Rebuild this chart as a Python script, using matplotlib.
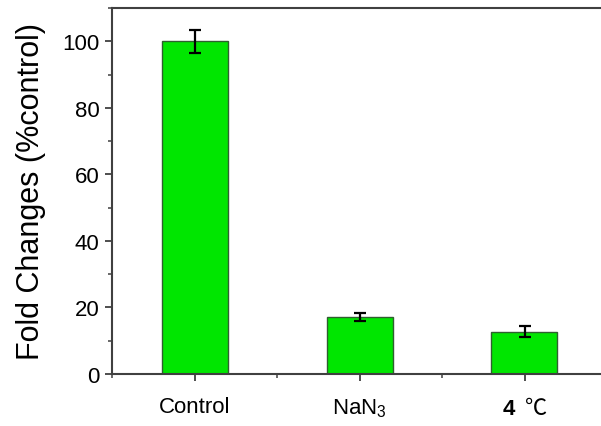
import matplotlib
matplotlib.use("Agg")
import matplotlib.pyplot as plt
from matplotlib.ticker import MultipleLocator

plt.rcParams['font.family'] = ['Liberation Sans', 'DejaVu Sans']
plt.rcParams['mathtext.fontset'] = 'custom'
plt.rcParams['mathtext.rm'] = 'Liberation Sans'
plt.rcParams['mathtext.it'] = 'Liberation Sans:italic'
plt.rcParams['mathtext.bf'] = 'Liberation Sans:bold'

categories = ["Control", "NaN$_3$", r"$\mathbf{4}$  ℃"]
fold_change = [100.0, 17.1, 12.7]
errors = [3.5, 1.3, 1.6]

positions = list(range(1, len(categories) + 1))

fig = plt.figure(figsize=(6.01, 4.27), dpi=100)
ax = fig.add_axes([112 / 601, 52 / 427, 495 / 601, 366 / 427])

ax.bar(positions, fold_change, width=0.4, color="#00e600",
       edgecolor="#2f5f2f", linewidth=1.0, zorder=2)
ax.errorbar(positions, fold_change, yerr=errors, fmt="none",
            ecolor="black", elinewidth=1.6, capsize=4, capthick=1.6, zorder=3)

ax.set_xlim(0.5, 3.5)
ax.set_ylim(0, 110)
ax.set_xticks(positions)
ax.set_xticklabels(categories)
ax.xaxis.set_minor_locator(MultipleLocator(0.5))
ax.yaxis.set_major_locator(MultipleLocator(20))
ax.yaxis.set_minor_locator(MultipleLocator(10))

# the plain part of this label (the celsius sign) needs a font that has it
ax.get_xticklabels()[2].set_fontfamily("Noto Sans CJK SC")

for side in ["left", "bottom", "top", "right"]:
    ax.spines[side].set_color("#404040")
    ax.spines[side].set_linewidth(1.5)

ax.tick_params(axis="both", which="major", direction="out", length=5,
               width=1.3, color="#404040", labelsize=16, pad=4)
ax.tick_params(axis="both", which="minor", direction="out", length=3,
               width=1.1, color="#404040")
ax.tick_params(axis="x", which="major", pad=11)

ax.set_ylabel("Fold Changes (%control)", fontsize=22, labelpad=12)

fig.savefig("out.png", dpi=100)
